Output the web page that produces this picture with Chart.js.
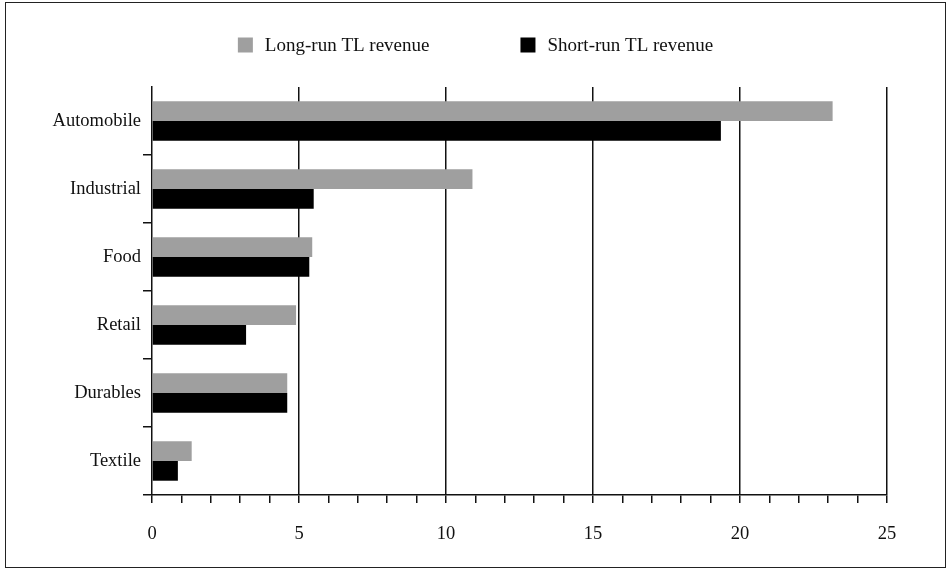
<!DOCTYPE html>
<html>
<head>
<meta charset="utf-8">
<script src="https://cdn.jsdelivr.net/npm/chart.js@4.4.1/dist/chart.umd.min.js"></script>
<style>
    body { margin: 0; background: #fff; }
    #wrap { position: relative; width: 951px; height: 569px; }
    #frame { position: absolute; left: 5px; top: 2px; width: 941px; height: 566px; box-sizing: border-box; border: 1.5px solid #222; pointer-events: none; }
</style>
</head>
<body>
<div id="wrap">
    <canvas id="chart" width="951" height="569"></canvas>
    <div id="frame"></div>
</div>
<script>
    const categorias = ['Automobile', 'Industrial', 'Food', 'Retail', 'Durables', 'Textile'];
    const longoPrazo = [23.15, 10.9, 5.45, 4.9, 4.6, 1.35];
    const curtoPrazo = [19.35, 5.5, 5.35, 3.2, 4.6, 0.88];
    const rotulosSeries = ['Long-run TL revenue', 'Short-run TL revenue'];
    const coresSeries = ['#9f9f9f', '#000000'];
    const marcasX = [0, 5, 10, 15, 20, 25];

    const familia = "'Liberation Serif', 'DejaVu Serif', serif";
    const fonte = { family: familia, size: 18.5 };

    // legenda desenhada a mao, para controlar o espacamento entre os itens
    const legendaPlugin = {
        id: 'legenda',
        afterDraw(chart) {
            const ctx = chart.ctx;
            const caixa = 15, espaco = 12, entre = 91, y = 45;
            ctx.save();
            ctx.font = `19px ${familia}`;
            const larguras = rotulosSeries.map(t => caixa + espaco + ctx.measureText(t).width);
            const total = larguras[0] + entre + larguras[1];
            let x = (chart.width - total) / 2;
            chart.data.datasets.forEach((ds, i) => {
                ctx.fillStyle = ds.backgroundColor;
                ctx.fillRect(x, y - caixa / 2, caixa, caixa);
                ctx.fillStyle = '#111';
                ctx.textBaseline = 'middle';
                ctx.textAlign = 'left';
                ctx.fillText(ds.label, x + caixa + espaco, y + 1);
                x += larguras[i] + entre;
            });
            ctx.restore();
        }
    };

    const ctx = document.getElementById('chart').getContext('2d');
    new Chart(ctx, {
        type: 'bar',
        data: {
            labels: categorias,
            datasets: [
                { label: rotulosSeries[0], data: longoPrazo, backgroundColor: coresSeries[0] },
                { label: rotulosSeries[1], data: curtoPrazo, backgroundColor: coresSeries[1] }
            ]
        },
        options: {
            indexAxis: 'y',
            responsive: false,
            animation: false,
            datasets: { bar: { barPercentage: 1, categoryPercentage: 0.58 } },
            layout: { padding: { top: 87, right: 64, left: 0, bottom: 0 } },
            plugins: { legend: { display: false }, tooltip: { enabled: false } },
            scales: {
                x: {
                    min: marcasX[0],
                    max: marcasX[marcasX.length - 1],
                    ticks: {
                        stepSize: 1,
                        autoSkip: false,
                        maxRotation: 0,
                        padding: 20,
                        color: '#111',
                        font: fonte,
                        callback: v => marcasX.includes(v) ? v : ''
                    },
                    grid: {
                        color: c => (c.tick && marcasX.includes(c.tick.value) && c.tick.value !== 0) ? '#111' : 'rgba(0,0,0,0)',
                        tickColor: '#111',
                        lineWidth: 1.5,
                        tickLength: 8
                    },
                    border: { display: true, color: '#111', width: 1.5 },
                    afterFit: s => { s.height = 74; }
                },
                y: {
                    ticks: { padding: 2, color: '#111', font: fonte },
                    grid: {
                        offset: true,
                        drawOnChartArea: false,
                        tickColor: c => c.index === 0 ? 'rgba(0,0,0,0)' : '#111',
                        lineWidth: 1.5,
                        tickLength: 9
                    },
                    border: { display: true, color: '#111', width: 1.5 },
                    afterFit: s => { s.width = 152; }
                }
            }
        },
        plugins: [legendaPlugin]
    });
</script>
</body>
</html>
